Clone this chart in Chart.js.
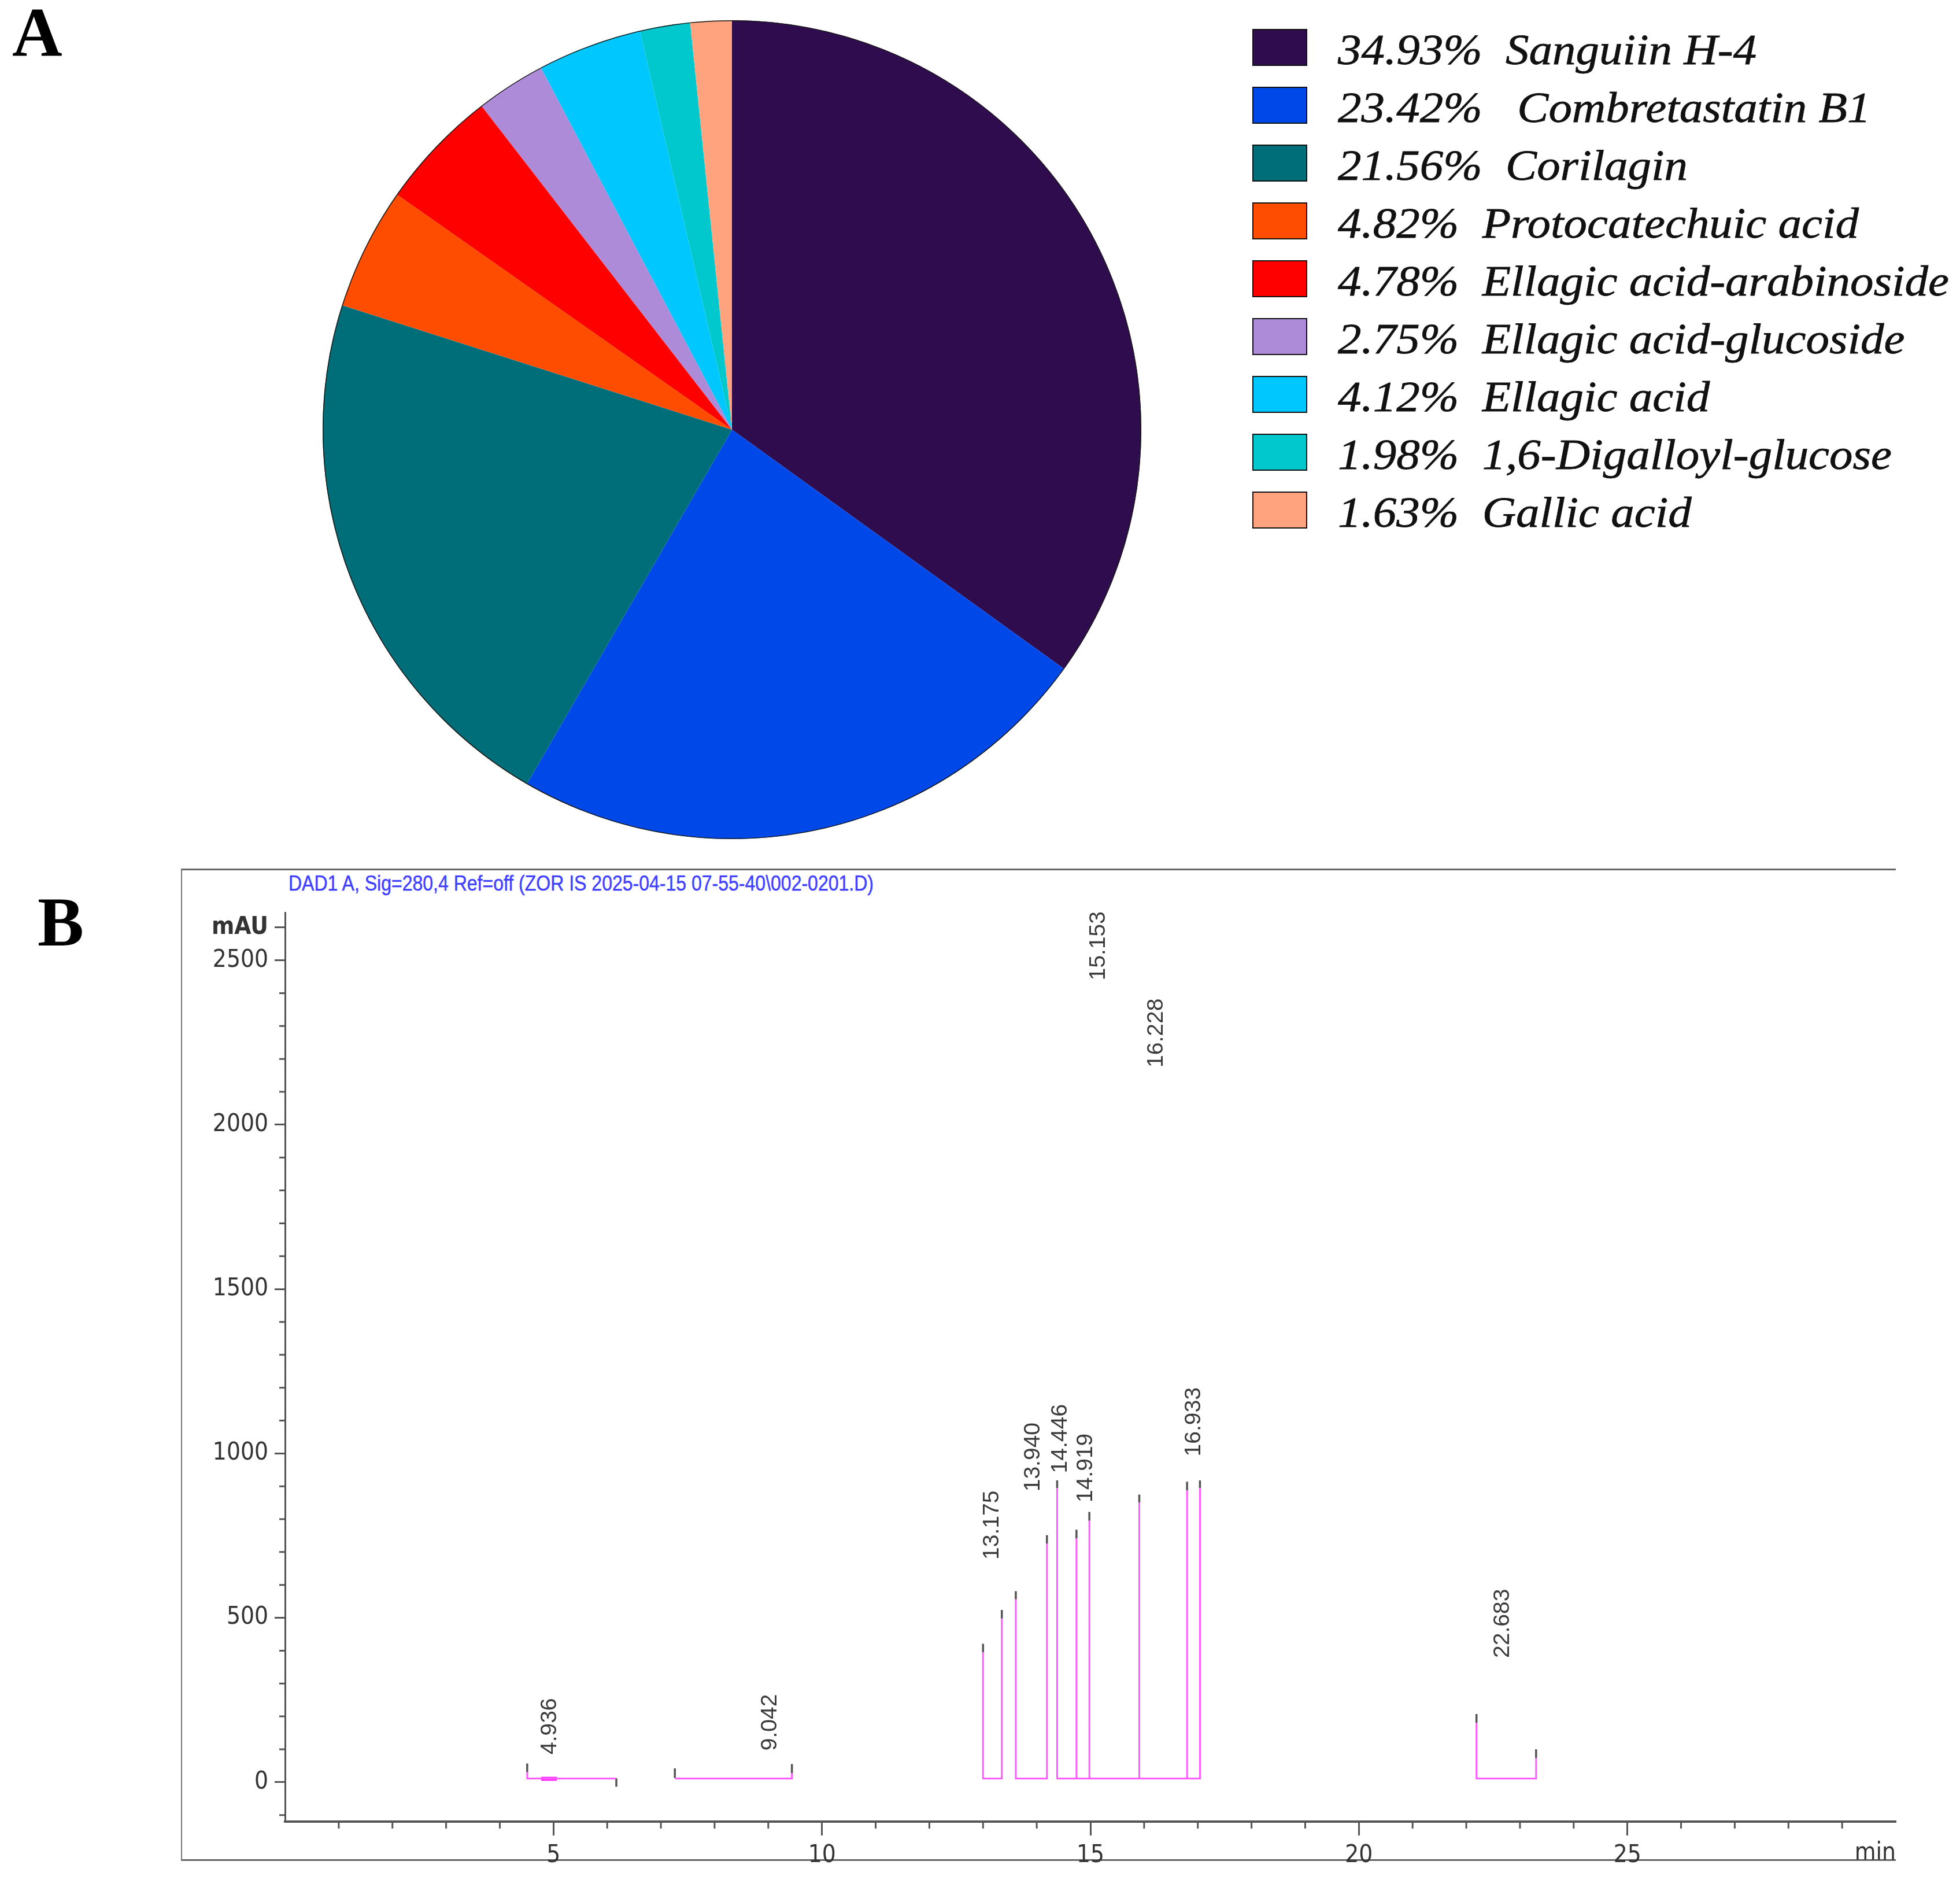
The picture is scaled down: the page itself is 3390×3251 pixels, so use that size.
<!DOCTYPE html>
<html>
<head>
<meta charset="utf-8">
<title>Phenolic profile and HPLC chromatogram</title>
<script src="https://cdn.jsdelivr.net/npm/chart.js@4.4.1/dist/chart.umd.min.js"></script>
<style>
  html, body { margin: 0; padding: 0; background: #fff; }
  body { width: 3390px; height: 3251px; position: relative; overflow: hidden; }
  .abs { position: absolute; }
  .panel-letter { font-family: 'Liberation Serif', 'Times New Roman', serif; font-weight: bold; font-size: 120px; line-height: 1; color: #000; }
  #pieWrap { left: 558px; top: 35px; width: 1416px; height: 1416px; }
  .leg-box { position: absolute; left: 2166px; width: 95px; height: 64px; border: 2px solid #111; box-sizing: border-box; }
  .leg-text { position: absolute; left: 2314px; font-family: 'Liberation Serif', 'Times New Roman', serif; font-style: italic;
              font-size: 74px; line-height: 74px; color: #111; white-space: pre; transform-origin: 0 0;
              -webkit-text-stroke: 0.8px #111; }
  #frame { left: 313px; top: 1502px; width: 2966px; height: 1716px; box-sizing: border-box;
           border-top: 3px solid #666; border-left: 2px solid #777; border-bottom: 3px solid #666; }
  #sigTitle { left: 499px; top: 1509px; font-family: 'Liberation Sans Narrow', 'Liberation Sans', Arial, sans-serif;
              font-size: 37px; line-height: 37px; color: #4040ff; white-space: pre; transform-origin: 0 0;
              -webkit-text-stroke: 0.5px #4040ff; }
  #chromWrap { left: 343px; top: 1542px; width: 2986px; height: 1683px; }
</style>
</head>
<body>
<div class="abs panel-letter" style="left:21px; top:-4px;">A</div>
<div class="abs panel-letter" style="left:65px; top:1535px;">B</div>

<div id="pieWrap" class="abs"><canvas id="pieChart"></canvas></div>
<div id="pieLegend"></div>

<div id="frame" class="abs"></div>
<div id="sigTitle" class="abs">DAD1 A, Sig=280,4 Ref=off (ZOR IS 2025-04-15 07-55-40\002-0201.D)</div>
<div id="chromWrap" class="abs"><canvas id="chromChart"></canvas></div>

<script>
// =============================================
// Panel A – relative composition (pie)
// =============================================
const compounds = ['Sanguiin H-4', ' Combretastatin B1', 'Corilagin', 'Protocatechuic acid',
  'Ellagic acid-arabinoside', 'Ellagic acid-glucoside', 'Ellagic acid', '1,6-Digalloyl-glucose', 'Gallic acid'];
const shares = [34.93, 23.42, 21.56, 4.82, 4.78, 2.75, 4.12, 1.98, 1.63];
const sliceColors = ['#2e0c4e', '#0048e8', '#006e78', '#ff4d00', '#ff0000', '#ae8bd8', '#00c8ff', '#00c8cc', '#ffa37e'];

// =============================================
// Panel B – chromatogram, DAD1 A 280 nm
// =============================================
const xMajorTicks = [5, 10, 15, 20, 25];
const xUnitAt = 30;          // "min" ends where the 30 label would be
const yMajorTicks = [0, 500, 1000, 1500, 2000, 2500];
const yUnitAt = 2600;        // "mAU" sits on the 2600 tick

// integration baselines (min) and their level (mAU)
const baseLevel = 11;
const segStart = [4.51, 7.26, 13.00, 13.61, 14.38, 22.19];
const segEnd   = [6.17, 9.44, 13.35, 14.19, 17.04, 23.30];

// drop lines: time (min) and signal height where the drop meets the trace (mAU)
const dropTimes   = [4.51, 6.17, 7.26, 9.44, 13.00, 13.35, 13.61, 14.19, 14.38, 14.74, 14.98, 15.91, 16.80, 17.04, 22.19, 23.30];
const dropHeights = [30,   11,   11,   27,   395,   498,   556,   726,   894,   741,   795,   851,   888,   894,   180,   73];
// dark start/stop markers on each drop (mAU)
const markLow  = [30,  -14,  13,   27,   395,   498,   556,   726,   894,   741,   795,   851,   888,   894,   180,   73];
const markHigh = [57,   12,  42,   55,   421,   524,   581,   751,   918,   768,   822,   875,   914,   918,   207,   100];

// the only bit of trace that shows (small peak near 4.9 min)
const traceTimes  = [4.77, 5.06];
const traceLevels = [10, 10];

// retention time labels and the height their text starts at (mAU)
const peakTimes  = [4.936, 9.042, 13.175, 13.940, 14.446, 14.919, 15.153, 16.228, 16.933, 22.683];
const peakLabelY = [84, 96, 677, 884, 940, 851, 2439, 2174, 991, 378];

// ---------------------------------------------
function buildLegend() {
  const host = document.getElementById('pieLegend');
  host.innerHTML = compounds.map((name, i) =>
    `<div class="leg-box" style="top:${50 + 100 * i}px;background:${sliceColors[i]}"></div>
     <div class="leg-text" style="top:${49 + 100 * i}px">${shares[i].toFixed(2)}%  ${name}</div>`
  ).join('');
  const rows = [...host.querySelectorAll('.leg-text')];
  const widest = Math.max(...rows.map(r => r.getBoundingClientRect().width));
  const k = 1057 / widest;
  rows.forEach(r => { r.style.transform = `scaleX(${k})`; });
}

function fitTitle() {
  const el = document.getElementById('sigTitle');
  const w = el.getBoundingClientRect().width;
  el.style.transform = `scaleX(${1012 / w})`;
}

const pieOutline = {
  id: 'pieOutline',
  afterDatasetsDraw(chart) {
    const arc = chart.getDatasetMeta(0).data[0];
    const { ctx } = chart;
    ctx.save();
    ctx.beginPath();
    ctx.arc(arc.x, arc.y, arc.outerRadius - 0.75, 0, Math.PI * 2);
    ctx.lineWidth = 1.5;
    ctx.strokeStyle = '#1a1a1a';
    ctx.stroke();
    ctx.restore();
  }
};

function buildPie() {
  new Chart(document.getElementById('pieChart'), {
    type: 'pie',
    data: {
      labels: compounds.map(c => c.trim()),
      datasets: [{ data: shares, backgroundColor: sliceColors, borderWidth: 0 }]
    },
    options: {
      responsive: true, maintainAspectRatio: false, animation: false, events: [],
      layout: { padding: 0 },
      plugins: { legend: { display: false }, tooltip: { enabled: false } }
    },
    plugins: [pieOutline]
  });
}

// ---------------------------------------------
function integrationPath() {
  const pts = [];
  segStart.forEach((s, i) => {
    const e = segEnd[i];
    const drops = dropTimes.map((t, j) => ({ t, h: dropHeights[j] })).filter(d => d.t >= s && d.t <= e);
    drops.forEach((d, k) => {
      if (k === 0) pts.push({ x: d.t, y: d.h }, { x: d.t, y: baseLevel });
      else if (k === drops.length - 1) pts.push({ x: d.t, y: baseLevel }, { x: d.t, y: d.h });
      else pts.push({ x: d.t, y: baseLevel }, { x: d.t, y: d.h }, { x: d.t, y: baseLevel });
    });
    pts.push({ x: e, y: null });
  });
  return pts;
}

function markerPath() {
  const pts = [];
  dropTimes.forEach((t, i) => {
    pts.push({ x: t, y: markLow[i] }, { x: t, y: markHigh[i] }, { x: t, y: null });
  });
  return pts;
}

const axisFont = { family: "'Liberation Sans Narrow', 'DejaVu Sans Condensed', 'Liberation Sans', Arial, sans-serif", size: 42 };
const axisColor = '#555';

const chromExtras = {
  id: 'chromExtras',
  afterDatasetsDraw(chart) {
    const { ctx, chartArea, scales: { x, y } } = chart;
    ctx.save();
    // minor ticks
    ctx.strokeStyle = axisColor;
    ctx.lineWidth = 3;
    ctx.beginPath();
    x.ticks.forEach(t => {
      if (xMajorTicks.includes(t.value) || t.value === xUnitAt) return;
      const px = x.getPixelForValue(t.value);
      ctx.moveTo(px, chartArea.bottom);
      ctx.lineTo(px, chartArea.bottom + 12);
    });
    y.ticks.forEach(t => {
      if (yMajorTicks.includes(t.value) || t.value === yUnitAt) return;
      const py = y.getPixelForValue(t.value);
      ctx.moveTo(chartArea.left - 10, py);
      ctx.lineTo(chartArea.left, py);
    });
    ctx.stroke();
    // unit label of the time axis, right-aligned on its position
    ctx.font = `${axisFont.size}px ${axisFont.family}`;
    ctx.fillStyle = '#333';
    ctx.textAlign = 'right';
    ctx.textBaseline = 'top';
    ctx.fillText('min', x.getPixelForValue(xUnitAt), chartArea.bottom + 34);
    // retention time labels, rotated
    ctx.font = '39px "Liberation Sans", Arial, sans-serif';
    ctx.fillStyle = '#3a3a3a';
    ctx.textAlign = 'left';
    ctx.textBaseline = 'middle';
    peakTimes.forEach((t, i) => {
      ctx.save();
      ctx.translate(x.getPixelForValue(t), y.getPixelForValue(peakLabelY[i]));
      ctx.rotate(-Math.PI / 2);
      ctx.fillText(t.toFixed(3), 0, 0);
      ctx.restore();
    });
    ctx.restore();
  }
};

function stepTicks(axis, lo, hi, step) {
  const ticks = [];
  for (let v = lo; v <= hi; v += step) ticks.push({ value: v });
  axis.ticks = ticks;
}

function buildChromatogram() {
  new Chart(document.getElementById('chromChart'), {
    type: 'line',
    data: {
      datasets: [
        { data: integrationPath(), borderColor: '#ff5cff', borderWidth: 3, spanGaps: false },
        { data: traceTimes.map((t, i) => ({ x: t, y: traceLevels[i] })), borderColor: '#ff2cff', borderWidth: 7 },
        { data: markerPath(), borderColor: '#555', borderWidth: 3.5, spanGaps: false }
      ]
    },
    options: {
      responsive: true, maintainAspectRatio: false, animation: false, events: [],
      layout: { padding: { left: 0, right: 50, top: 30, bottom: 0 } },
      elements: { point: { radius: 0 }, line: { tension: 0, borderCapStyle: 'butt' } },
      plugins: { legend: { display: false }, tooltip: { enabled: false } },
      scales: {
        x: {
          type: 'linear', min: 0, max: 30,
          afterFit: s => { s.height = 75; },
          afterBuildTicks: axis => stepTicks(axis, 1, 30, 1),
          border: { display: true, color: axisColor, width: 4 },
          grid: {
            drawOnChartArea: false, drawTicks: true, tickLength: 24, tickWidth: 3,
            tickColor: c => (c.tick && xMajorTicks.includes(c.tick.value)) ? axisColor : 'rgba(0,0,0,0)'
          },
          ticks: {
            autoSkip: false, maxRotation: 0, minRotation: 0, padding: 10, color: '#333', font: axisFont,
            callback: v => xMajorTicks.includes(v) ? String(v) : ''
          }
        },
        y: {
          type: 'linear', min: -120, max: 2645,
          afterFit: s => { s.width = 150; },
          afterBuildTicks: axis => stepTicks(axis, -100, yUnitAt, 100),
          border: { display: true, color: axisColor, width: 3 },
          grid: {
            drawOnChartArea: false, drawTicks: true, tickLength: 18, tickWidth: 3,
            tickColor: c => (c.tick && (yMajorTicks.includes(c.tick.value) || c.tick.value === yUnitAt)) ? axisColor : 'rgba(0,0,0,0)'
          },
          ticks: {
            autoSkip: false, padding: 11, color: '#333',
            font: c => (c.tick && c.tick.value === yUnitAt) ? { ...axisFont, weight: 'bold' } : axisFont,
            callback: v => v === yUnitAt ? 'mAU' : (yMajorTicks.includes(v) ? String(v) : '')
          }
        }
      }
    },
    plugins: [chromExtras]
  });
}

document.addEventListener('DOMContentLoaded', () => {
  buildLegend();
  fitTitle();
  buildPie();
  buildChromatogram();
});
</script>
</body>
</html>
